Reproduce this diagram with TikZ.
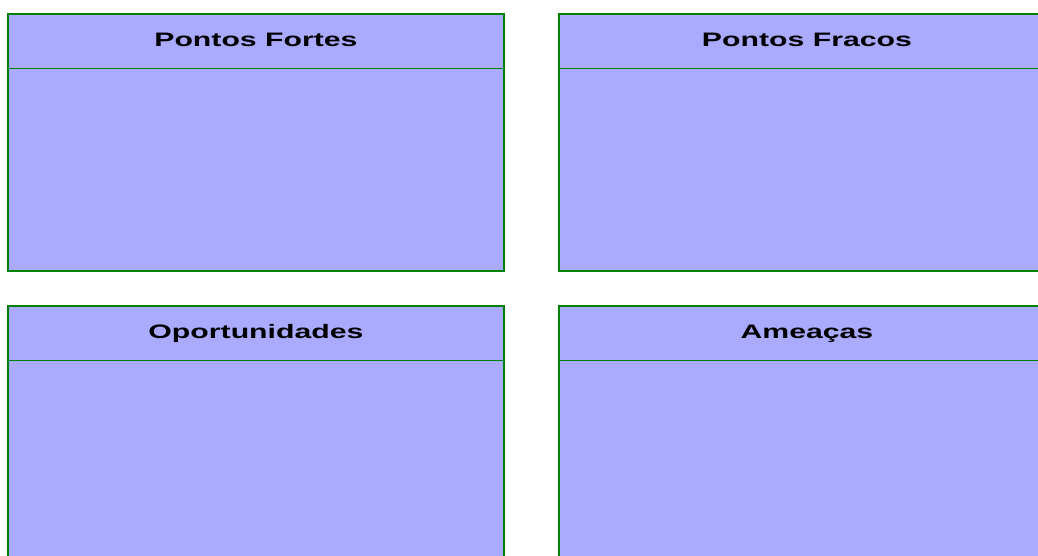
\documentclass[tikz,border=0pt]{standalone}
\usepackage{fontspec}
\setmainfont{Liberation Sans}
\usepackage{graphicx}
\definecolor{boxfill}{HTML}{AAAAFF}
\definecolor{boxline}{HTML}{008000}
\begin{document}
\begin{tikzpicture}[x=1pt,y=-1pt,
  swotbox/.style={draw=boxline, fill=boxfill, line width=1.3pt, minimum width=496pt, minimum height=257pt, inner sep=0pt, anchor=north west},
  headline/.style={draw=boxline, line width=1.3pt},
  title/.style={font=\fontsize{19.5}{22}\selectfont\bfseries, inner sep=0pt, anchor=base}]
\useasboundingbox (0,0) rectangle (1038,555);
\clip (0,0) rectangle (1038,555);
\fill[white] (0,0) rectangle (1038,555);
\node[swotbox] (pf) at (7.3,13.3) {};
\node[swotbox] (pw) at (558.3,13.3) {};
\node[swotbox] (op) at (7.3,305.3) {};
\node[swotbox] (am) at (558.3,305.3) {};
\foreach \b in {pf,pw,op,am}{
  \draw[headline] ([yshift=-55pt]\b.north west) -- ([yshift=-55pt]\b.north east);
}
\node[title] (tpf) at ([yshift=-33.6pt]pf.north) {\scalebox{1.55}[1]{Pontos Fortes}};
\node[title] (tpw) at ([yshift=-33.6pt]pw.north) {\scalebox{1.55}[1]{Pontos Fracos}};
\node[title] (top) at ([yshift=-33.6pt]op.north) {\scalebox{1.55}[1]{Oportunidades}};
\node[title] (tam) at ([yshift=-33.6pt]am.north) {\scalebox{1.55}[1]{Ameaças}};
\end{tikzpicture}
\end{document}
